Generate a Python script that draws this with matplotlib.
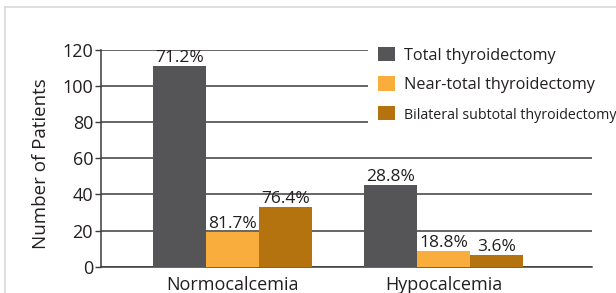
import matplotlib
matplotlib.use('Agg')
import matplotlib.pyplot as plt
from matplotlib.patches import Patch
from matplotlib.lines import Line2D
import numpy as np

categories = ['Normocalcemia', 'Hypocalcemia']
series_names = ['Total thyroidectomy', 'Near-total thyroidectomy',
                'Bilateral subtotal thyroidectomy']
total = [111, 45]
near_total = [19, 8.5]
bilateral = [33, 6.5]
pct_total = ['71.2%', '28.8%']
pct_near = ['81.7%', '18.8%']
pct_bilat = ['76.4%', '3.6%']
y_ticks = [0, 20, 40, 60, 80, 100, 120]

colors = ['#555558', '#f9ad3c', '#b5730f']
text_color = '#231f20'
FONT = 'Open Sans'
plt.rcParams['font.family'] = [FONT, 'DejaVu Sans']

W, H = 616, 293
fig = plt.figure(figsize=(W / 100, H / 100), dpi=100)

# light gray frame of the figure
fig.add_artist(Line2D([5 / W, 1], [1 - 7 / H, 1 - 7 / H], transform=fig.transFigure,
                      color='#d9d9d9', lw=1.2))
fig.add_artist(Line2D([5 / W, 5 / W], [0, 1 - 7 / H], transform=fig.transFigure,
                      color='#d9d9d9', lw=1.2))

ax = fig.add_axes([100.7 / W, 1 - 266.7 / H, (592 - 100.7) / W, (266.7 - 50) / H])

x = np.arange(len(categories))
width = 0.251
series = [total, near_total, bilateral]
pcts = [pct_total, pct_near, pct_bilat]
for k, (vals, col, labs) in enumerate(zip(series, colors, pcts)):
    xs = x + (k - 1) * width
    ax.bar(xs, vals, width=width, color=col, zorder=3, linewidth=0)
    for xi, v, lab in zip(xs, vals, labs):
        ax.annotate(lab, (xi, v), xytext=(0, 0), textcoords='offset points',
                    ha='center', va='bottom', fontsize=12.5, color=text_color, zorder=4)

ax.set_xlim(-0.625, 1.704)
ax.set_ylim(0, 120)
ax.set_yticks(y_ticks)
ax.set_xticks(x)
ax.set_xticklabels(categories)
ax.tick_params(axis='x', length=0, pad=7, labelsize=13, labelcolor=text_color)
ax.tick_params(axis='y', length=4.5, width=1.0, color='#3c3c3c', pad=1,
               labelsize=13, labelcolor=text_color)
ax.yaxis.grid(True, color='#3c3c3c', lw=1.1)
ax.set_axisbelow(True)
for s in ['top', 'right']:
    ax.spines[s].set_visible(False)
for s in ['left', 'bottom']:
    ax.spines[s].set_color('#3c3c3c')
    ax.spines[s].set_linewidth(1.1)
ax.set_ylabel('Number of Patients', fontsize=13.5, color=text_color)
ax.yaxis.set_label_coords(-0.103, 0.475)

handles = [Patch(facecolor=c, edgecolor='none') for c in colors]
leg = ax.legend(handles, series_names, loc='upper left',
                bbox_to_anchor=(368 / W, 1 - 37 / H), bbox_transform=fig.transFigure,
                frameon=True, facecolor='white', edgecolor='none', framealpha=1,
                fancybox=False, fontsize=11.7, handlelength=1.05, handleheight=1.0,
                handletextpad=0.55, labelspacing=0.78, borderpad=0.6, borderaxespad=0)
for t in leg.get_texts():
    t.set_color(text_color)
leg.get_texts()[2].set_fontsize(10.3)

fig.savefig('out.png', dpi=100)
